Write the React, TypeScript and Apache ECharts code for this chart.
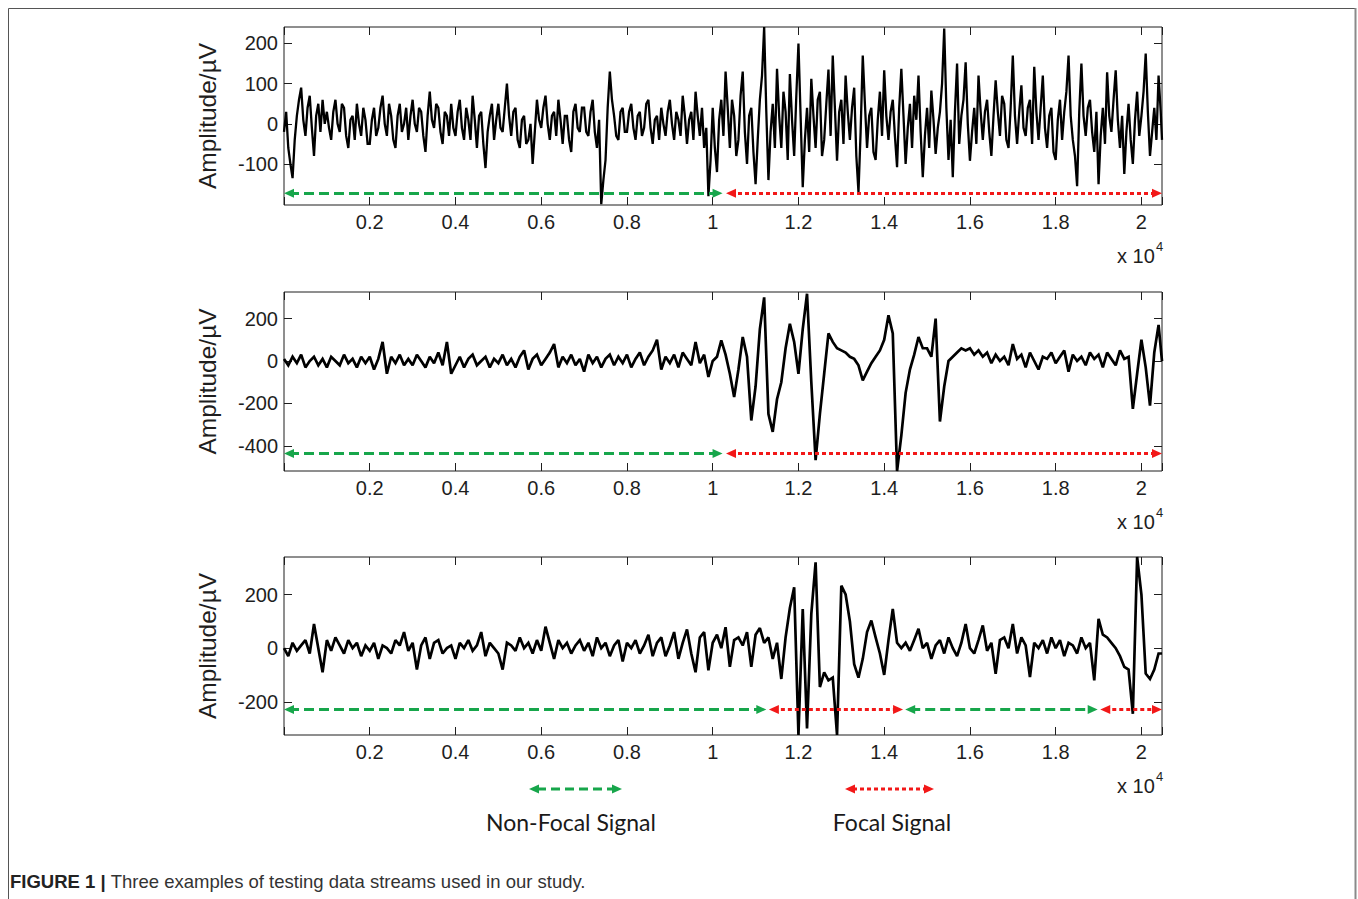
import React, { useEffect, useRef } from "react";
import * as echarts from "echarts";

// ---------- data ----------
const SAMPLE_STEP_1 = 50; // samples between stored points, panel 1
const SAMPLE_STEP_23 = 100; // samples between stored points, panels 2 and 3
const X_MAX = 20480;
const X_TICK_STEP = 2000;

const signal1 = [
  -20, 30, -60, -100, -135, -40, 20, 60, 90, 10, -30, 40, 70, -10, -80, 20, 50, -20, 60, 0,
  30, -10, -40, 30, 60, 0, -20, 50, 40, -30, -60, 10, 20, -40, 50, 0, -30, 40, 10, -50,
  -50, 10, 40, -30, -10, 40, 70, 0, -30, 50, 20, -40, -60, 20, 50, -20, 0, 40, -40, 20,
  60, 0, -20, 40, 30, -30, -70, 20, 80, 10, -10, 50, 40, -20, -50, 30, 20, -30, 50, -10,
  -30, 30, 60, -10, -40, 40, 10, -40, 70, 10, -60, 20, 30, -50, -110, -20, 20, 50, -40, 10,
  50, -10, -20, 40, 100, 20, -30, 30, 40, -40, -60, 10, 20, -50, -40, 0, -100, -20, 60, 10,
  -10, 40, 70, 0, -40, 20, 30, -30, 60, 10, -50, 20, 20, -40, -70, 30, 50, -10, -20, 40,
  40, -20, -30, 30, 60, -20, -60, 10, -200, -140, -90, 40, 130, 60, 20, -30, -40, 30, 40, -20,
  -20, 30, 50, -10, -40, 20, 30, -30, -10, 50, 60, -10, -50, 10, 20, -40, 40, 0, -30, 30,
  60, 0, -40, 30, 10, -30, 70, 20, -50, 10, 30, -40, 80, 20, -30, 40, -60, -10, -180, -90,
  40, -60, -120, 10, 60, -30, 130, 40, -60, 60, 20, -80, -40, 70, 130, -20, -100, 20, 40, -70,
  -150, -40, 60, 120, 241, 30, -140, -20, 50, -60, 137, 20, -60, 80, 30, -90, 124, 10, -80, 70,
  200, 20, -158, -40, 40, -70, 112, 20, -60, 60, 80, -80, -40, 50, 135, -30, 170, 40, -92, 30,
  60, -50, 120, 30, -40, 40, 90, -80, -170, -20, 170, 50, -60, 20, 40, -70, -90, 10, 80, -30,
  133, 20, -40, 30, 60, -30, -108, 40, 137, 20, -100, -10, 50, -60, 70, 10, 120, -20, -133, -30,
  40, -60, 83, 10, -75, -10, 30, 100, 237, 40, -90, 10, -133, 30, 150, -50, 20, 60, 153, 0,
  -92, -20, 40, -50, 120, 30, -40, 30, 60, -20, -80, 20, 108, 30, -30, 70, 50, -40, -60, 40,
  170, 20, -50, 30, 96, -10, -30, 40, 60, -50, 142, 30, -40, 40, 120, -10, -60, 20, 40, -70,
  -90, 10, 60, -40, 30, 80, 170, 20, -40, -80, -155, 30, 150, 20, -30, 40, 60, -20, -70, 30,
  -150, -30, 40, -50, 128, 20, -20, 60, 133, 10, -60, 20, -125, -20, 50, -40, -100, 10, 80, -30,
  20, 80, 175, 30, -80, -20, 40, -40, 120, 30, -40,
];

const signal2 = [
  10, -20, 20, -10, 30, -30, 0, 20, -20, 10,
  -30, 20, 0, -20, 30, -10, 10, -30, 20, -10,
  20, -40, 10, 90, -60, 20, -10, 30, -20, 10,
  -20, 30, 0, -30, 20, -10, 40, -20, 90, -60,
  -20, 20, -30, 10, 30, -20, 0, 20, -30, 10,
  -10, 30, -20, 10, -30, 20, 50, -40, 10, 30,
  -20, 10, 40, 80, -30, 20, -10, 30, -20, 10,
  -50, 30, -10, 20, -30, 10, 30, -20, 20, -10,
  30, -30, 10, 40, -20, 20, 50, 100, -40, 20,
  -10, 30, -30, 40, 10, -20, 90, -10, 30, -75,
  0, 20, 97, 30, -60, -170, -40, 113, 20, -280,
  -120, 150, 300, -250, -334, -180, -100, 60, 175, 90,
  -60, 150, 317, -100, -467, -250, -60, 130, 90, 60,
  50, 40, 20, 10, -20, -91, -50, -10, 20, 50,
  100, 215, 130, -518, -350, -150, -40, 30, 113, 60,
  60, 20, 200, -285, -120, 0, 20, 40, 60, 50,
  60, 30, 50, 20, 40, -10, 30, 0, 20, -20,
  80, 10, 30, -30, 40, 0, -40, 20, 10, 40,
  -10, 20, 50, -50, 30, 0, 20, -20, 40, 10,
  30, -30, 40, 10, -20, 50, 10, 20, -225, -60,
  100, -30, -210, 40, 170, 0,
];

const signal3 = [
  0, -30, 20, -10, 10, 30, -20, 90, 0, -90,
  30, -10, 40, 10, -20, 30, 0, 20, -30, 10,
  -10, 20, -40, 10, 0, -20, 30, 10, 60, -10,
  20, -80, 10, 40, -40, 20, 30, -20, 0, 10,
  -40, 20, 0, 30, -10, 10, 60, -30, 20, 0,
  -20, -80, 20, 10, -10, 40, 0, 20, -20, 30,
  -10, 80, 20, -40, 30, 0, 20, -20, 10, 30,
  -10, 20, -30, 40, 0, 20, -30, 10, 30, -50,
  20, 0, 30, -20, 10, 50, -30, 20, 40, -30,
  10, 60, -40, 20, 70, -20, -90, 40, 60, -83,
  20, 50, 0, 78, -70, 30, 40, 10, 60, -70,
  50, 75, 20, 40, -40, 20, -115, 40, 150, 227,
  -324, 146, -300, 128, 320, -145, -90, -120, -110, -324,
  233, 200, 100, -60, -110, -40, 60, 103, 40, -20,
  -100, 30, 146, 20, 0, 20, -10, 30, 72, 0,
  20, -40, 10, 30, -20, 40, 0, -30, 20, 90,
  0, -20, 30, 85, -10, 20, -96, 30, 40, 0,
  90, -20, 40, 10, -108, 20, 0, 30, -20, 40,
  0, 30, -30, 20, 10, -20, 40, 0, 20, -120,
  109, 50, 40, 20, 0, -30, -70, -80, -245, 340,
  200, -95, -115, -80, -20, -20,
];

const yRange1 = [-202, 241];
const yRange2 = [-518, 325];
const yRange3 = [-324, 340];

const yTicks1 = [-100, 0, 100, 200];
const yTicks2 = [-400, -200, 0, 200];
const yTicks3 = [-200, 0, 200];

const arrowLevel1 = -173;
const arrowLevel2 = -436;
const arrowLevel3 = -229;

// [kind, start sample, end sample]
const segments1 = [
  ["nonfocal", 0, 10230],
  ["focal", 10310, 20480],
];
const segments2 = [
  ["nonfocal", 0, 10230],
  ["focal", 10310, 20480],
];
const segments3 = [
  ["nonfocal", 0, 11250],
  ["focal", 11310, 14440],
  ["nonfocal", 14490, 18980],
  ["focal", 19040, 20480],
];

const legendLabels = ["Non-Focal Signal", "Focal Signal"];
const yAxisName = "Amplitude/µV";
const exponentBase = "x 10";
const exponentPower = "4";
const captionBold = "FIGURE 1 | ";
const captionText = "Three examples of testing data streams used in our study.";

// ---------- styles / layout ----------
const GREEN = "#17a64b";
const RED = "#f21818";
const AXIS_COLOR = "#1e1e1e";
const TEXT_COLOR = "#1e1e1e";
const FONT = "Liberation Sans, Arial, sans-serif";

const GRID_LEFT = 284;
const GRID_WIDTH = 878;
const panels = [
  { top: 27, height: 178, data: signal1, step: SAMPLE_STEP_1, lw: 2.3, range: yRange1, ticks: yTicks1, level: arrowLevel1, segs: segments1 },
  { top: 292, height: 179, data: signal2, step: SAMPLE_STEP_23, lw: 2.7, range: yRange2, ticks: yTicks2, level: arrowLevel2, segs: segments2 },
  { top: 557, height: 178, data: signal3, step: SAMPLE_STEP_23, lw: 2.7, range: yRange3, ticks: yTicks3, level: arrowLevel3, segs: segments3 },
];

const ARROW_LEN = 10;
const ARROW_INSET = (ARROW_LEN / 2) * (X_MAX / GRID_WIDTH);

function segStyle(kind: string) {
  return kind === "focal"
    ? { color: RED, width: 3, type: [4, 3], cap: "butt" }
    : { color: GREEN, width: 3, type: [10, 5], cap: "butt" };
}

function buildOption() {
  const grid: any[] = [];
  const xAxis: any[] = [];
  const yAxis: any[] = [];
  const series: any[] = [];
  const graphic: any[] = [];

  panels.forEach((p, i) => {
    grid.push({
      left: GRID_LEFT,
      width: GRID_WIDTH,
      top: p.top,
      height: p.height,
      show: true,
      borderColor: AXIS_COLOR,
      borderWidth: 1,
      backgroundColor: "transparent",
    });
    const xBase = {
      type: "value",
      gridIndex: i,
      min: 0,
      max: X_MAX,
      interval: X_TICK_STEP,
      splitLine: { show: false },
      axisLine: { show: false, onZero: false },
      axisTick: { show: true, inside: true, length: 8, lineStyle: { color: AXIS_COLOR, width: 1 } },
    };
    xAxis.push({
      ...xBase,
      position: "bottom",
      axisLabel: {
        show: true,
        margin: 7,
        color: TEXT_COLOR,
        fontFamily: FONT,
        fontSize: 20,
        formatter: (v: number) =>
          v > 0 && v % X_TICK_STEP === 0 ? String(v / 10000) : "",
      },
    });
    xAxis.push({ ...xBase, position: "top", axisLabel: { show: false } });

    const yBase = {
      type: "value",
      gridIndex: i,
      min: p.range[0],
      max: p.range[1],
      splitLine: { show: false },
      axisLine: { show: false, onZero: false },
      axisTick: {
        show: true,
        inside: true,
        length: 8,
        customValues: p.ticks,
        lineStyle: { color: AXIS_COLOR, width: 1 },
      },
    };
    yAxis.push({
      ...yBase,
      position: "left",
      name: yAxisName,
      nameLocation: "middle",
      nameRotate: 90,
      nameGap: 64,
      nameTextStyle: { color: TEXT_COLOR, fontFamily: FONT, fontSize: 24.5 },
      axisLabel: {
        show: true,
        margin: 6,
        color: TEXT_COLOR,
        fontFamily: FONT,
        fontSize: 20,
        customValues: p.ticks,
      },
    });
    yAxis.push({ ...yBase, position: "right", axisLabel: { show: false } });

    series.push({
      type: "line",
      xAxisIndex: i * 2,
      yAxisIndex: i * 2,
      data: p.data.map((v, k) => [Math.min(k * p.step, X_MAX), v]),
      showSymbol: false,
      symbol: "none",
      lineStyle: { color: "#000", width: p.lw, join: "miter", miterLimit: 2 },
      silent: true,
      z: 2,
      markLine: {
        silent: true,
        symbol: ["triangle", "triangle"],
        symbolSize: [9, ARROW_LEN],
        label: { show: false },
        emphasis: { disabled: true },
        z: 3,
        data: p.segs.map((s: any) => {
          const st = segStyle(s[0]);
          return [
            { coord: [s[1] + ARROW_INSET, p.level], lineStyle: st, itemStyle: { color: st.color } },
            { coord: [s[2] - ARROW_INSET, p.level] },
          ];
        }),
      },
    });

    const baseY = p.top + p.height + 51;
    graphic.push({
      type: "text",
      left: 1117,
      top: baseY - 10,
      style: { text: exponentBase, fill: TEXT_COLOR, font: `20px ${FONT}` },
      silent: true,
    });
    graphic.push({
      type: "text",
      left: 1156,
      top: baseY - 16,
      style: { text: exponentPower, fill: TEXT_COLOR, font: `13px ${FONT}` },
      silent: true,
    });
  });

  // figure frame
  graphic.push({
    type: "rect",
    shape: { x: 8.5, y: 8.5, width: 1347, height: 1000 },
    style: { fill: "none", stroke: "#555", lineWidth: 1 },
    silent: true,
    z: 0,
  });
  graphic.push({
    type: "line",
    shape: { x1: 1355.5, y1: 8, x2: 1355.5, y2: 899 },
    style: { stroke: "#8a8a8a", lineWidth: 2 },
    silent: true,
  });

  // legend arrows
  const legendItems = [
    { x1: 529, x2: 622, cx: 571, color: GREEN, dash: [9, 5], label: legendLabels[0] },
    { x1: 845, x2: 934, cx: 892, color: RED, dash: [4, 3], label: legendLabels[1] },
  ];
  legendItems.forEach((it) => {
    const y = 789;
    graphic.push({
      type: "line",
      shape: { x1: it.x1 + 8, y1: y, x2: it.x2 - 8, y2: y },
      style: { stroke: it.color, lineWidth: 3, lineDash: it.dash },
      silent: true,
    });
    graphic.push({
      type: "polygon",
      shape: { points: [[it.x1, y], [it.x1 + 10, y - 4.5], [it.x1 + 10, y + 4.5]] },
      style: { fill: it.color },
      silent: true,
    });
    graphic.push({
      type: "polygon",
      shape: { points: [[it.x2, y], [it.x2 - 10, y - 4.5], [it.x2 - 10, y + 4.5]] },
      style: { fill: it.color },
      silent: true,
    });
    graphic.push({
      type: "text",
      x: it.cx,
      y: 822,
      style: {
        text: it.label,
        fill: "#1a1a1a",
        font: `23px Lato, "Open Sans", sans-serif`,
        align: "center",
        verticalAlign: "middle",
      },
      silent: true,
    });
  });

  // caption
  graphic.push({
    type: "text",
    x: 10,
    y: 881,
    style: {
      text: `{b|${captionBold}}{r|${captionText}}`,
      verticalAlign: "middle",
      rich: {
        b: { fontFamily: FONT, fontSize: 18.5, fontWeight: "bold", fill: "#222" },
        r: { fontFamily: FONT, fontSize: 18.5, fill: "#333" },
      },
    },
    silent: true,
  });

  return {
    animation: false,
    backgroundColor: "#ffffff",
    grid,
    xAxis,
    yAxis,
    series,
    graphic,
  };
}

export default function App() {
  const ref = useRef<HTMLDivElement>(null);
  useEffect(() => {
    if (!ref.current) return;
    const chart = echarts.init(ref.current, undefined, { renderer: "svg" });
    chart.setOption(buildOption() as any);
    return () => chart.dispose();
  }, []);
  return (
    <div
      ref={ref}
      style={{ position: "fixed", left: 0, top: 0, width: 1358, height: 899 }}
    />
  );
}
